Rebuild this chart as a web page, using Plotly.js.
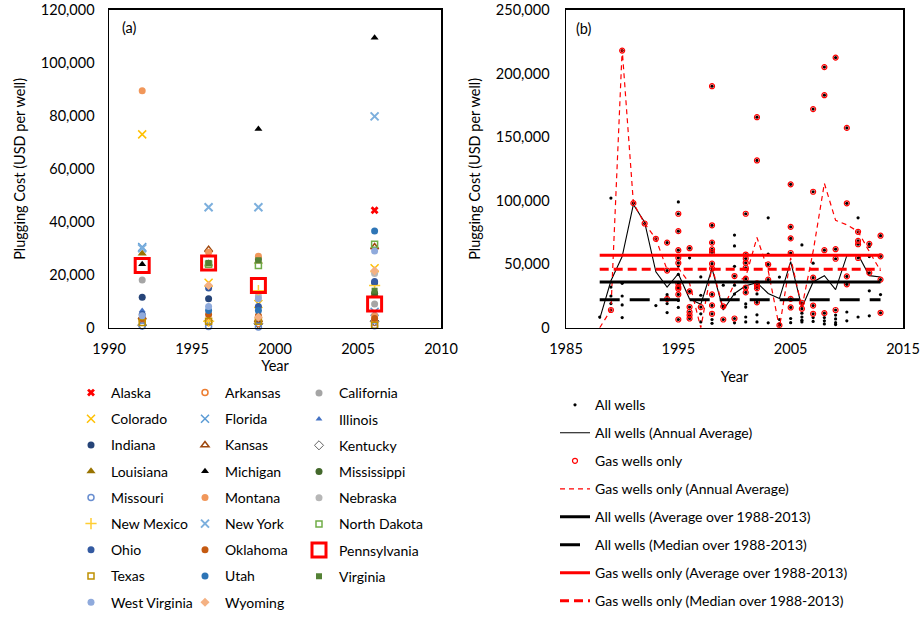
<!DOCTYPE html>
<html><head><meta charset="utf-8">
<script src="https://cdn.plot.ly/plotly-3.0.1.min.js"></script>
<style>html,body{margin:0;padding:0;background:#fff}#chart{width:921px;height:618px}</style>
</head><body><div id="chart"></div>
<script>
// ---------- Panel (a): plugging cost by state ----------
const surveyYears = [1992, 1996, 1999, 2006];
const states = ["Alaska","Arkansas","California","Colorado","Florida","Illinois","Indiana","Kansas","Kentucky",
  "Louisiana","Michigan","Mississippi","Missouri","Montana","Nebraska","New Mexico","New York","North Dakota",
  "Ohio","Oklahoma","Pennsylvania","Texas","Utah","Virginia","West Virginia","Wyoming"];
const alaska       = [null, null, null, 44400];
const arkansas     = [3000, 2000, 1500, 2000];
const california   = [18000, null, null, 9000];
const colorado     = [73000, 17000, 9000, 22500];
const florida      = [30500, null, null, 6000];
const illinois     = [6500, 1500, 2000, 5500];
const indiana      = [11500, 11000, null, 17000];
const kansas       = [4000, 29500, 3000, 30500];
const kentucky     = [1000, 2500, 1500, 2500];
const louisiana    = [28000, 24000, 25000, 12500];
const michigan     = [24000, 24500, 75000, 109500];
const mississippi  = [null, null, 26000, 13000];
const missouri     = [700, 500, 300, 800];
const montana      = [89500, 28500, 27000, 4500];
const nebraska     = [null, null, 12000, 20500];
const newMexico    = [null, 2500, 14000, 16000];
const newYork      = [30000, 45500, 45500, 79800];
const northDakota  = [null, 24000, 23500, 31500];
const ohio         = [5000, 15000, 8000, 17500];
const oklahoma     = [3500, 5000, 4500, 3500];
const pennsylvania = [23500, 24500, 16000, 9000];
const texas        = [2000, 2500, 2500, 1000];
const utah         = [null, 6500, 6500, 36500];
const virginia     = [null, 24500, 25500, 14000];
const westVirginia = [4500, 8000, 11000, 29000];
const wyoming      = [null, 16000, 4000, 21500];

// ---------- Panel (b): individual wells and averages ----------
const gasYears = [1989,1990,1991,1992,1993,1994,1994,1994,
  1995,1995,1995,1995,1995,1995,1995,1995,1995,1995,
  1996,1996,1996,1996,1996,1996,1997,
  1998,1998,1998,1998,1998,1998,1998,1998,1998,1998,
  1999,1999,2000,2000,
  2001,2001,2001,2001,2001,2001,2001,2001,
  2002,2002,2002,2002,2002,2002,2003,2003,2004,
  2005,2005,2005,2005,2005,2005,2006,2006,
  2007,2007,2007,2007,2007,2008,2008,2008,2008,
  2009,2009,2009,2009,2010,2010,2010,2010,
  2011,2011,2011,2011,2012,2012,2013,2013,2013,2013];
const gasCost = [14000,218000,98000,82000,70000,67000,45000,22700,
  89700,76000,61000,55000,51000,34600,32000,30600,26200,6500,
  62600,28600,16300,12400,9900,7300,16300,
  190000,80600,67000,61600,59500,50400,46600,26200,17600,11000,
  16800,6500,40700,7300,
  89700,57600,54500,51100,47200,38600,31700,27800,
  165600,131600,35000,33000,31000,20000,49800,37900,2000,
  112800,79400,70300,58800,22700,16000,19700,15000,
  172000,107000,39400,17500,11000,205000,182900,61000,11500,
  212500,61800,54300,14000,157200,97900,40400,34200,
  75500,68300,65700,54900,66000,43200,72400,56200,37900,11800];
const otherYears = [1988,1989,1989,1989,1989,1990,1990,1990,1990,1993,1994,1994,1994,
  1995,1995,1995,1995,1995,1996,1997,1997,1997,1997,1998,1998,1999,
  2000,2000,2000,2000,2000,2000,2001,2001,2001,2001,2002,2002,2002,2003,2003,2003,
  2004,2004,2004,2005,2005,2006,2006,2006,2006,2006,2007,2007,2007,2008,2008,2008,
  2009,2009,2009,2009,2010,2010,2011,2011,2012,2012,2012,2012,2013];
const otherCost = [8500,102000,32000,25000,19000,35000,25000,18000,8000,17500,26000,19000,12000,
  99000,48500,42000,21500,16000,55000,40000,25600,11000,4600,6500,3500,33500,
  72900,64400,48300,33500,26500,3900,18800,16300,8500,4600,26600,10200,4600,86500,58000,3900,
  39900,6500,3000,7300,4000,65200,11500,8500,6000,4600,50800,8000,5000,8000,5500,3000,
  10000,7000,4000,2500,12400,5500,86500,8500,64000,56000,29100,9400,26100];
const avgYears = [1988,1989,1990,1991,1992,1993,1994,1995,1996,1997,1998,1999,2000,
  2001,2002,2003,2004,2005,2006,2007,2008,2009,2010,2011,2012,2013];
const allAnnualAvg = [7000,37000,56000,97000,83000,44000,32000,42500,22600,18500,46600,14000,27000,
  33000,35500,27000,23000,52000,16000,36000,41000,30000,56700,57500,41000,40000];
const gasAnnualAvg = [0,14000,219000,98000,82000,70000,45600,47000,35000,0,48000,15000,35000,
  40000,71000,45000,0,55000,16000,60000,113600,84500,81000,75700,60000,44800];
const periodYears = [1988, 2013];
const allPeriodAvg = 36000, allPeriodMedian = 22000;
const gasPeriodAvg = 57000, gasPeriodMedian = 46000;

// ---------- styles ----------
const FONT = "Lato, 'Open Sans', sans-serif";
const stateStyle = {
  "Alaska":{c:"#FF0000",s:"x",z:7,w:0},
  "Arkansas":{c:"#ED7D31",s:"circle-open",z:6,w:1.5},
  "California":{c:"#A5A5A5",s:"circle",z:7,w:0},
  "Colorado":{c:"#FFC000",s:"x-thin-open",z:8,w:1.5},
  "Florida":{c:"#5B9BD5",s:"x-thin-open",z:8,w:1.5},
  "Illinois":{c:"#4472C4",s:"triangle-up",z:6,w:0},
  "Indiana":{c:"#264478",s:"circle",z:7,w:0},
  "Kansas":{c:"#9E480E",s:"triangle-up-open",z:7,w:1.5},
  "Kentucky":{c:"#636363",s:"diamond-open",z:7,w:1},
  "Louisiana":{c:"#997300",s:"triangle-up",z:8,w:0},
  "Michigan":{c:"#000000",s:"triangle-up",z:7,w:0},
  "Mississippi":{c:"#43682B",s:"circle",z:7,w:0},
  "Missouri":{c:"#698ED0",s:"circle-open",z:6,w:1.5},
  "Montana":{c:"#F1975A",s:"circle",z:7,w:0},
  "Nebraska":{c:"#B7B7B7",s:"circle",z:7,w:0},
  "New Mexico":{c:"#FFCD33",s:"cross-thin-open",z:8,w:1.5},
  "New York":{c:"#7CAFDD",s:"x-thin-open",z:8,w:2},
  "North Dakota":{c:"#70AD47",s:"square-open",z:6,w:1.5},
  "Ohio":{c:"#335AA1",s:"circle",z:7,w:0},
  "Oklahoma":{c:"#C55A11",s:"circle",z:7,w:0},
  "Pennsylvania":{c:"#FF0000",s:"square-open",z:14,w:3},
  "Texas":{c:"#BF9000",s:"square-open",z:6,w:1.5},
  "Utah":{c:"#2E75B6",s:"circle",z:7,w:0},
  "Virginia":{c:"#548235",s:"square",z:6,w:0},
  "West Virginia":{c:"#8FAADC",s:"circle",z:7,w:0},
  "Wyoming":{c:"#F4B183",s:"diamond",z:7,w:0}
};
const stateValues = [alaska,arkansas,california,colorado,florida,illinois,indiana,kansas,kentucky,
  louisiana,michigan,mississippi,missouri,montana,nebraska,newMexico,newYork,northDakota,
  ohio,oklahoma,pennsylvania,texas,utah,virginia,westVirginia,wyoming];

const traces = [];
const legendNames = ["legend","legend2","legend3"];
states.forEach((st, i) => {
  const sty = stateStyle[st];
  traces.push({
    type:"scatter", mode:"markers", name:st, x:surveyYears, y:stateValues[i],
    xaxis:"x", yaxis:"y", legend:legendNames[i % 3], legendgroup:st,
    marker:{symbol:sty.s, size:sty.z, color:sty.c, line:{color:sty.c, width:sty.w}},
    cliponaxis:false
  });
});

const L4 = "legend4";
traces.push({type:"scatter", mode:"markers", name:"All wells",
  x:otherYears.concat(gasYears), y:otherCost.concat(gasCost), xaxis:"x2", yaxis:"y2",
  legend:L4, legendgroup:"b1", marker:{symbol:"circle", size:3.2, color:"#000"}});
traces.push({type:"scatter", mode:"lines", name:"All wells (Annual Average)",
  x:avgYears, y:allAnnualAvg, xaxis:"x2", yaxis:"y2", legend:L4, legendgroup:"b2",
  line:{color:"#000", width:1.1}});
traces.push({type:"scatter", mode:"markers", name:"Gas wells only",
  x:gasYears, y:gasCost, xaxis:"x2", yaxis:"y2", legend:L4, legendgroup:"b3",
  marker:{symbol:"circle-open", size:5, color:"#FF0000", line:{color:"#FF0000", width:1.2}}});
traces.push({type:"scatter", mode:"lines", name:"Gas wells only (Annual Average)",
  x:avgYears, y:gasAnnualAvg, xaxis:"x2", yaxis:"y2", legend:L4, legendgroup:"b4",
  line:{color:"#FF0000", width:1.2, dash:"5px,4px"}});
traces.push({type:"scatter", mode:"lines", name:"All wells (Average over 1988-2013)",
  x:periodYears, y:[allPeriodAvg, allPeriodAvg], xaxis:"x2", yaxis:"y2", legend:L4, legendgroup:"b5",
  line:{color:"#000", width:3}});
traces.push({type:"scatter", mode:"lines", name:"All wells (Median over 1988-2013)",
  x:periodYears, y:[allPeriodMedian, allPeriodMedian], xaxis:"x2", yaxis:"y2", legend:L4, legendgroup:"b6",
  line:{color:"#000", width:3, dash:"20px,10px"}});
traces.push({type:"scatter", mode:"lines", name:"Gas wells only (Average over 1988-2013)",
  x:periodYears, y:[gasPeriodAvg, gasPeriodAvg], xaxis:"x2", yaxis:"y2", legend:L4, legendgroup:"b7",
  line:{color:"#FF0000", width:3}});
traces.push({type:"scatter", mode:"lines", name:"Gas wells only (Median over 1988-2013)",
  x:periodYears, y:[gasPeriodMedian, gasPeriodMedian], xaxis:"x2", yaxis:"y2", legend:L4, legendgroup:"b8",
  line:{color:"#FF0000", width:3, dash:"9px,5px"}});

const W = 921, H = 618;
const yDom = [1 - 331/H, 1 - 10/H];
const axisCommon = {showgrid:false, zeroline:false, showline:true, linecolor:"#000", linewidth:1.5,
  mirror:true, ticks:"", tickfont:{family:FONT, size:14.5, color:"#000"}, fixedrange:true};
const legendCommon = {xanchor:"left", yanchor:"top", font:{family:FONT, size:14, color:"#000"},
  bgcolor:"rgba(0,0,0,0)", borderwidth:0, orientation:"v", traceorder:"grouped"};
const titleFont = {family:FONT, size:14.5, color:"#000"};

const layout = {
  width:W, height:H, margin:{l:0, r:0, t:0, b:0}, paper_bgcolor:"#fff", plot_bgcolor:"#fff",
  font:{family:FONT, size:14, color:"#000"},
  xaxis:Object.assign({}, axisCommon, {domain:[109/W, 441/W], range:[1990, 2010], tickvals:[1990,1995,2000,2005,2010],
    anchor:"y", ticklabelstandoff:7, title:{text:"Year", font:titleFont, standoff:4}}),
  yaxis:Object.assign({}, axisCommon, {domain:yDom, range:[0, 120000], dtick:20000, tickformat:",d",
    anchor:"x", ticklabelstandoff:10, title:{text:"Plugging Cost (USD per well)", font:titleFont, standoff:12}}),
  xaxis2:Object.assign({}, axisCommon, {domain:[566/W, 903/W], range:[1985, 2015], tickvals:[1985,1995,2005,2015],
    anchor:"y2", ticklabelstandoff:7, title:{text:"Year", font:titleFont, standoff:16}}),
  yaxis2:Object.assign({}, axisCommon, {domain:yDom, range:[0, 250000], dtick:50000, tickformat:",d",
    anchor:"x2", ticklabelstandoff:12, title:{text:"Plugging Cost (USD per well)", font:titleFont, standoff:12}}),
  legend:Object.assign({}, legendCommon, {x:(111-40)/W, y:1-381/H, tracegroupgap:5}),
  legend2:Object.assign({}, legendCommon, {x:(225-40)/W, y:1-381/H, tracegroupgap:5}),
  legend3:Object.assign({}, legendCommon, {x:(339-40)/W, y:1-381/H, tracegroupgap:5}),
  legend4:Object.assign({}, legendCommon, {x:(595-40)/W, y:1-393/H, tracegroupgap:6.8}),
  annotations:[
    {text:"(a)", xref:"paper", yref:"paper", x:120/W, y:1-28/H, xanchor:"left", yanchor:"middle", showarrow:false,
     font:{family:FONT, size:14.5, color:"#000"}},
    {text:"(b)", xref:"paper", yref:"paper", x:574/W, y:1-29/H, xanchor:"left", yanchor:"middle", showarrow:false,
     font:{family:FONT, size:14.5, color:"#000"}}
  ],
  showlegend:true
};

Plotly.newPlot("chart", traces, layout, {displayModeBar:false, staticPlot:true});
</script></body></html>
